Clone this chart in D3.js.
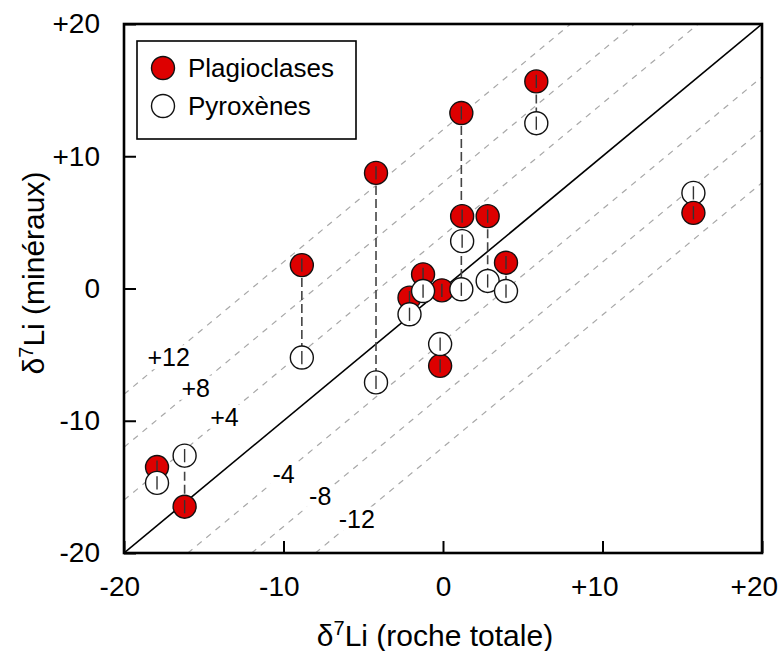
<!DOCTYPE html>
<html><head><meta charset="utf-8">
<script src="https://cdn.jsdelivr.net/npm/d3@7"></script>
<style>
body{margin:0;background:#fff}
svg{display:block}
text{font-family:"Liberation Sans",Arial,Helvetica,sans-serif;fill:#000}
</style>
</head><body>
<svg id="c" width="780" height="651"></svg>
<script>
// ---------- data ----------
const tickValues = [-20, -10, 0, 10, 20];
const tickLabels = ["-20", "-10", "0", "+10", "+20"];
const seriesNames = ["Plagioclases", "Pyroxènes"];
// whole-rock δ7Li of each sample
const rockLi = [5.85, 1.15, 1.2, 2.8, 3.95, -1.25, -2.1, -0.07, -8.85, -4.2, -0.18, 15.7, -17.93, -16.2];
// mineral δ7Li
const plagLi = [15.66, 13.27, 5.47, 5.47, 1.95, 1.07, -0.69, -0.14, 1.77, 8.74, -5.85, 5.72, -13.5, -16.5];
const pyxLi  = [12.5, -0.06, 3.58, 0.57, -0.19, -0.19, -1.95, null, -5.22, -7.1, -4.2, 7.23, -14.7, -12.64];
// analytical uncertainty (small bars inside the symbols)
const plagErr = [0.5, 0.5, 0.5, 0.5, 0.5, 0.5, 0.5, 0.5, 0.5, 0.5, 0.5, 0.5, 0.5, 0.5];
const pyxErr  = [0.5, 0.5, 0.5, 0.5, 0.5, 0.5, 0.5, null, 0.5, 0.5, 0.5, 0.5, 0.5, 0.5];
// samples whose plagioclase symbol lies above the pyroxene one
const plagOnTop = [11];
// Δ (minéraux − roche) guide lines
const guideOffsets = [12, 8, 4, -4, -8, -12];
const guideLabels = ["+12", "+8", "+4", "-4", "-8", "-12"];

// ---------- layout ----------
const svg = d3.select("#c");
const L = 124, R = 762, T = 24, B = 553;
const x = d3.scaleLinear().domain([-20, 20]).range([L, R]);
const y = d3.scaleLinear().domain([-20, 20]).range([B, T]);
const RED = "#dd0000";
const RAD = 11.5;

svg.append("defs").append("clipPath").attr("id", "clip")
  .append("rect").attr("x", L).attr("y", T).attr("width", R - L).attr("height", B - T);

const plot = svg.append("g").attr("clip-path", "url(#clip)");

// guide lines
guideOffsets.forEach(d => {
  const x0 = Math.max(-20, -20 - d), x1 = Math.min(20, 20 - d);
  plot.append("line")
    .attr("x1", x(x0)).attr("y1", y(x0 + d))
    .attr("x2", x(x1)).attr("y2", y(x1 + d))
    .attr("stroke", "#a8a8a8").attr("stroke-width", 1.2)
    .attr("stroke-dasharray", "6,6");
});

// 1:1 line
plot.append("line")
  .attr("x1", x(-20)).attr("y1", y(-20)).attr("x2", x(20)).attr("y2", y(20))
  .attr("stroke", "#000").attr("stroke-width", 1.6);

// guide labels with white backgrounds
const labelX = [-17.2, -15.5, -13.7, -10.0, -7.7, -5.4];
guideOffsets.forEach((d, i) => {
  const g = plot.append("g");
  const t = g.append("text")
    .attr("x", x(labelX[i])).attr("y", y(labelX[i] + d))
    .attr("text-anchor", "middle").attr("dominant-baseline", "central")
    .style("font-size", "25px").text(guideLabels[i]);
  const bb = t.node().getBBox();
  g.insert("rect", "text")
    .attr("x", bb.x - 2).attr("y", bb.y + 2).attr("width", bb.width + 4).attr("height", bb.height - 4)
    .attr("fill", "#fff");
});

// connectors between minerals of the same sample
rockLi.forEach((r, i) => {
  if (pyxLi[i] == null) return;
  plot.append("line")
    .attr("x1", x(r)).attr("x2", x(r))
    .attr("y1", y(plagLi[i])).attr("y2", y(pyxLi[i]))
    .attr("stroke", "#444").attr("stroke-width", 1.6)
    .attr("stroke-dasharray", "9,4");
});

// markers
const markers = [];
rockLi.forEach((r, i) => { if (!plagOnTop.includes(i)) markers.push({r, v: plagLi[i], e: plagErr[i], fill: RED}); });
rockLi.forEach((r, i) => { if (pyxLi[i] != null) markers.push({r, v: pyxLi[i], e: pyxErr[i], fill: "#fff"}); });
plagOnTop.forEach(i => markers.push({r: rockLi[i], v: plagLi[i], e: plagErr[i], fill: RED}));

const mg = plot.selectAll("g.m").data(markers).join("g").attr("class", "m");
mg.append("circle")
  .attr("cx", d => x(d.r)).attr("cy", d => y(d.v)).attr("r", RAD)
  .attr("fill", d => d.fill).attr("stroke", "#111").attr("stroke-width", 1.4);
mg.append("line")
  .attr("x1", d => x(d.r)).attr("x2", d => x(d.r))
  .attr("y1", d => y(d.v - d.e)).attr("y2", d => y(d.v + d.e))
  .attr("stroke", "#333").attr("stroke-width", 1.4);

// axes (inward ticks)
const xAxis = d3.axisBottom(x).tickValues(tickValues).tickSize(-12).tickSizeOuter(0).tickPadding(23)
  .tickFormat((d, i) => tickLabels[i]);
const yAxis = d3.axisLeft(y).tickValues(tickValues).tickSize(-12).tickSizeOuter(0).tickPadding(24)
  .tickFormat((d, i) => tickLabels[i]);
const gx = svg.append("g").attr("transform", `translate(0,${B})`).call(xAxis);
const gy = svg.append("g").attr("transform", `translate(${L},0)`).call(yAxis);
[gx, gy].forEach(g => {
  g.select(".domain").remove();
  g.selectAll(".tick line").attr("stroke", "#000").attr("stroke-width", 2);
  g.selectAll(".tick text").style("font-size", "28px").attr("fill", "#000")
    .style("font-family", "'Liberation Sans',Arial,sans-serif");
});
// x labels: digits centred on tick, sign hanging to the left
gx.selectAll(".tick text").each(function () {
  const s = this.textContent;
  if (s.length > 1 && (s[0] === "+" || s[0] === "-")) {
    const signW = this.getSubStringLength(0, 1);
    d3.select(this).attr("dx", -signW / 2);
  }
});
gx.selectAll(".tick text").attr("dy", "0.71em");

// frame
svg.append("rect").attr("x", L).attr("y", T).attr("width", R - L).attr("height", B - T)
  .attr("fill", "none").attr("stroke", "#000").attr("stroke-width", 2.6);

// legend
const lg = svg.append("g");
lg.append("rect").attr("x", 137).attr("y", 41).attr("width", 219).attr("height", 98)
  .attr("fill", "#fff").attr("stroke", "#000").attr("stroke-width", 1.6);
[RED, "#fff"].forEach((f, i) => {
  const cy = 68 + i * 38;
  lg.append("circle").attr("cx", 163).attr("cy", cy).attr("r", RAD)
    .attr("fill", f).attr("stroke", "#111").attr("stroke-width", 1.4);
  lg.append("text").attr("x", 188).attr("y", cy + 9).style("font-size", "26px").text(seriesNames[i]);
});

// axis titles
const xt = svg.append("text").attr("x", 435).attr("y", 646).attr("text-anchor", "middle").style("font-size", "30px");
xt.append("tspan").text("δ");
xt.append("tspan").attr("dy", -11).style("font-size", "20px").text("7");
xt.append("tspan").attr("dy", 11).text("Li (roche totale)");

const yt = svg.append("text").attr("transform", "translate(44,273) rotate(-90)")
  .attr("text-anchor", "middle").style("font-size", "30px");
yt.append("tspan").text("δ");
yt.append("tspan").attr("dy", -11).style("font-size", "20px").text("7");
yt.append("tspan").attr("dy", 11).text("Li (minéraux)");
</script>
</body></html>
